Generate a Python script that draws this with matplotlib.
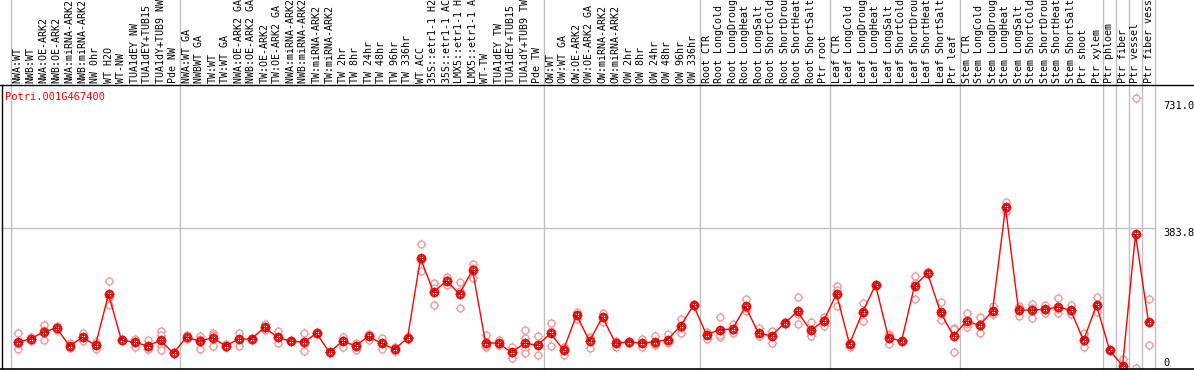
import matplotlib.pyplot as plt
from matplotlib.lines import Line2D

# ---------------------------------
# Data
# ---------------------------------
gene = "Potri.001G467400"

samples = [
    "NWA:WT", "NWB:WT", "NWA:OE-ARK2", "NWB:OE-ARK2", "NWA:miRNA-ARK2", "NWB:miRNA-ARK2",
    "NW 0hr", "WT H2O", "WT-NW", "TUA1dEY NW", "TUA1dEY+TUB15 NW", "TUA1dY+TUB9 NW", "Pde NW",
    "NWA:WT GA", "NWBWT GA", "TW:WT", "TW:WT GA", "NWA:OE-ARK2 GA", "NWB:OE-ARK2 GA",
    "TW:OE-ARK2", "TW:OE-ARK2 GA", "NWA:miRNA-ARK2 GA", "NWB:miRNA-ARK2 GA", "TW:miRNA-ARK2",
    "TW:miRNA-ARK2", "TW 2hr", "TW 8hr", "TW 24hr", "TW 48hr", "TW 96hr", "TW 336hr", "WT ACC",
    "35S::etr1-1 H2O", "35S::etr1-1 ACC", "LMX5::etr1-1 H2O", "LMX5::etr1-1 ACC", "WT-TW",
    "TUA1dEY TW", "TUA1dEY+TUB15 TW", "TUA1dY+TUB9 TW", "Pde TW",
    "OW:WT", "OW:WT GA", "OW:OE-ARK2", "OW:OE-ARK2 GA", "OW:miRNA-ARK2", "OW:miRNA-ARK2",
    "OW 2hr", "OW 8hr", "OW 24hr", "OW 48hr", "OW 96hr", "OW 336hr",
    "Root CTR", "Root LongCold", "Root LongDrought", "Root LongHeat", "Root LongSalt",
    "Root ShortCold", "Root ShortDrought", "Root ShortHeat", "Root ShortSalt", "Ptr root",
    "Leaf CTR", "Leaf LongCold", "Leaf LongDrought", "Leaf LongHeat", "Leaf LongSalt",
    "Leaf ShortCold", "Leaf ShortDrought", "Leaf ShortHeat", "Leaf ShortSalt", "Ptr leaf",
    "Stem CTR", "Stem LongCold", "Stem LongDrought", "Stem LongHeat", "Stem LongSalt",
    "Stem ShortCold", "Stem ShortDrought", "Stem ShortHeat", "Stem ShortSalt", "Ptr shoot",
    "Ptr xylem", "Ptr phloem", "Ptr fiber", "Ptr vessel", "Ptr fiber vessel",
]

group_sizes = [13, 28, 12, 10, 10, 11, 1, 1, 1, 1]

means = [
    72, 81, 100, 111, 62, 85, 64, 203, 77, 72, 62, 77, 42,
    86, 75, 84, 62, 80, 81, 113, 85, 75, 72, 96, 44, 75, 62, 88, 69, 53, 83,
    302, 209, 240, 204, 270, 71, 69, 44, 69, 64,
    96, 51, 146, 75, 141, 69, 73, 70, 73, 79, 116, 173,
    92, 106, 108, 170, 96, 90, 124, 156, 104, 130,
    204, 67, 154, 229, 84, 75, 226, 261, 154, 89,
    130, 118, 157, 441, 160, 160, 162, 168, 160, 77, 173,
    51, 7, 367, 127,
]

replicates = [
    [96, 53, 67], [86, 76], [118, 77, 104], [116, 106], [71, 58, 56], [96, 76, 84],
    [73, 53, 67], [239, 174, 197], [80, 75], [82, 60, 73], [78, 53, 54], [103, 92, 62, 51],
    [44, 40],
    [92, 81], [90, 54, 82], [96, 62, 92], [67, 58, 60], [96, 62, 81], [83, 79],
    [122, 105, 111], [103, 69, 84], [77, 74], [96, 49, 70], [99, 94], [46, 42],
    [87, 60, 77], [69, 51, 65], [92, 78, 94], [83, 54, 70], [60, 49, 49], [85, 80],
    [340, 268, 297], [233, 174, 219], [251, 229, 241], [236, 165, 211], [286, 247, 276],
    [92, 58, 62], [78, 64, 65], [60, 30, 43], [105, 83, 53, 42], [90, 36, 67],
    [125, 61, 103], [60, 37, 55], [155, 146, 136], [86, 57, 83], [153, 128, 142],
    [60, 73, 74], [76, 71], [82, 58, 70], [90, 64, 66], [94, 69, 74], [136, 98, 112],
    [176, 170],
    [101, 80, 94], [140, 87, 92], [122, 96, 106], [190, 156, 165], [112, 89, 88],
    [98, 69, 102], [126, 122], [196, 121, 150], [127, 94, 90], [140, 116, 134],
    [226, 171, 215], [60, 71, 70], [179, 130, 153], [232, 225], [94, 67, 91], [77, 74],
    [253, 189, 235], [264, 258], [181, 132, 149], [110, 107, 44],
    [153, 114, 123], [142, 96, 117], [171, 149, 150], [456, 429, 439], [171, 144, 165],
    [177, 137, 166], [174, 153, 160], [192, 151, 162], [174, 149, 157], [98, 60, 74],
    [195, 154, 170],
    [51, 50], [27, 0, 0], [740, 0], [189, 64, 126],
]

y_ticks = [731.0, 383.8, 0]
y_tick_labels = ["731.0", "383.8", "0"]

# ---------------------------------
# Figure layout
# ---------------------------------
plt.rcParams["font.family"] = "DejaVu Sans Mono"

W, H = 1194, 370
fig = plt.figure(figsize=(W / 100, H / 100), dpi=100)

plot_left, plot_right = 11, 1155
plot_top, plot_bottom = 85, 369
plot_w = plot_right - plot_left
axes_h = plot_bottom - plot_top
ax = fig.add_axes([plot_left / W, (H - plot_bottom) / H, plot_w / W, axes_h / H])

n = len(samples)
x = list(range(n))
ax.set_xlim(-0.5, n - 0.5)
ax.set_ylim(-1.4, 776)
ax.axis("off")

top_reach = plot_bottom / axes_h

# group separators (run through the label area too)
bounds = [0]
for s in group_sizes:
    bounds.append(bounds[-1] + s)
for b in bounds:
    ax.axvline(b - 0.5, ymin=0, ymax=top_reach, color="#c0c0c0", lw=1,
               clip_on=False, zorder=1)

# middle grid line
ax.axhline(y_ticks[1], xmin=-10 / plot_w, xmax=1,
           color="#c0c0c0", lw=1, clip_on=False, zorder=1)

# frame lines
fig.add_artist(Line2D([0, 1], [1 - plot_top / H] * 2, color="black", lw=1,
                      transform=fig.transFigure))
fig.add_artist(Line2D([0, 1], [1.2 / H] * 2, color="black", lw=1.2,
                      transform=fig.transFigure))
fig.add_artist(Line2D([1.5 / W] * 2, [0, 1 - plot_top / H], color="black", lw=1,
                      transform=fig.transFigure))

# ---------------------------------
# Replicates and mean line
# ---------------------------------
rep_color = "#ef9a9a"
for i, reps in enumerate(replicates):
    xs = [i] * len(reps)
    ax.plot(xs, reps, linestyle="none", marker="+", ms=7, mew=0.6,
            color=rep_color, zorder=2, clip_on=False)
    ax.plot(xs, reps, linestyle="none", marker="o", ms=5, mew=1,
            mfc="white", mec=rep_color, zorder=2.5, clip_on=False)

ax.plot(x, means, color="red", lw=1, zorder=3)
ax.plot(x, means, linestyle="none", marker="+", ms=7.2, mew=0.6, color="red", zorder=3)
ax.plot(x, means, linestyle="none", marker="o", ms=5.6, mew=1.3,
        mfc="none", mec="red", zorder=4)
ax.plot(x, means, linestyle="none", marker="o", ms=3.6, mew=0.5,
        mfc="none", mec="#500000", zorder=4)

# ---------------------------------
# Text
# ---------------------------------
label_y = 1 + 2 / axes_h
for i, lab in enumerate(samples):
    ax.text(i, label_y, lab, rotation=90, ha="center", va="bottom",
            fontsize=7.2, color="black", transform=ax.get_xaxis_transform(),
            clip_on=False)

ax.text(-6 / plot_w, 1 - 7 / axes_h, gene, color="red", fontsize=7.5,
        ha="left", va="top", transform=ax.transAxes)

tick_x = 1 + 8 / plot_w
for v, t in zip(y_ticks, y_tick_labels):
    va = "bottom" if v == 0 else "top"
    ax.text(tick_x, v, t, fontsize=7.5, color="black", ha="left", va=va,
            transform=ax.get_yaxis_transform(), clip_on=False)

fig.savefig("out.png", dpi=100)
